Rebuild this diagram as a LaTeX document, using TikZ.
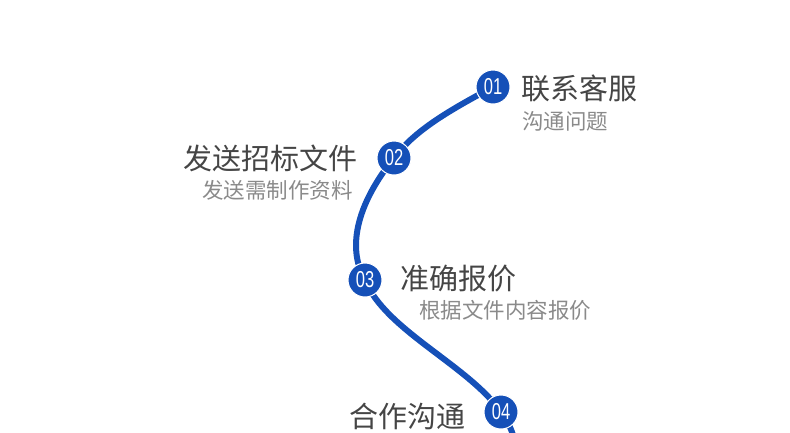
\documentclass[tikz,border=0pt]{standalone}
\usepackage{fontspec}
\newfontfamily\cjk{Noto Sans CJK SC}
\newfontfamily\numfont[FakeStretch=0.72]{Liberation Sans}
\definecolor{lineblue}{HTML}{1550B8}
\definecolor{titlegray}{HTML}{454545}
\definecolor{subgray}{HTML}{8A8A8A}
\begin{document}
\begin{tikzpicture}[x=1pt,y=-1pt,
  dot/.style={circle,fill=lineblue,draw=white,line width=1pt,minimum size=34pt,inner sep=0pt,text=white,font=\numfont\fontsize{23}{23}\selectfont},
  ttl/.style={inner sep=0pt,text=titlegray,font=\cjk\fontsize{29}{29}\selectfont},
  sub/.style={inner sep=0pt,text=subgray,font=\cjk\fontsize{21.5}{21.5}\selectfont}]
\useasboundingbox (0,0) rectangle (790,432);
\coordinate (p1) at (493,87);
\coordinate (p2) at (394,158);
\coordinate (p3) at (365,280);
\coordinate (p4) at (501,412);
\coordinate (pend) at (516,445);
\draw[lineblue,line width=6pt]
  (p1) .. controls (450,110) and (415,130) .. (p2)
  .. controls (360,200) and (345,245) .. (p3)
  .. controls (385,330) and (468,365) .. (p4)
  .. controls (508,421) and (512,430) .. (pend);
\node[dot] (n1) at (p1) {01};
\node[dot] (n2) at (p2) {02};
\node[dot] (n3) at (p3) {03};
\node[dot] (n4) at (p4) {04};
\node[ttl,anchor=west] (t1) at (521,88) {联系客服};
\node[sub,anchor=west] (s1) at (522,121) {沟通问题};
\node[ttl,anchor=east] (t2) at (358,158) {发送招标文件};
\node[sub,anchor=east] (s2) at (353,190) {发送需制作资料};
\node[ttl,anchor=west] (t3) at (400,279) {准确报价};
\node[sub,anchor=west] (s3) at (419,310) {根据文件内容报价};
\node[ttl,anchor=east] (t4) at (466,416) {合作沟通};
\end{tikzpicture}
\end{document}
